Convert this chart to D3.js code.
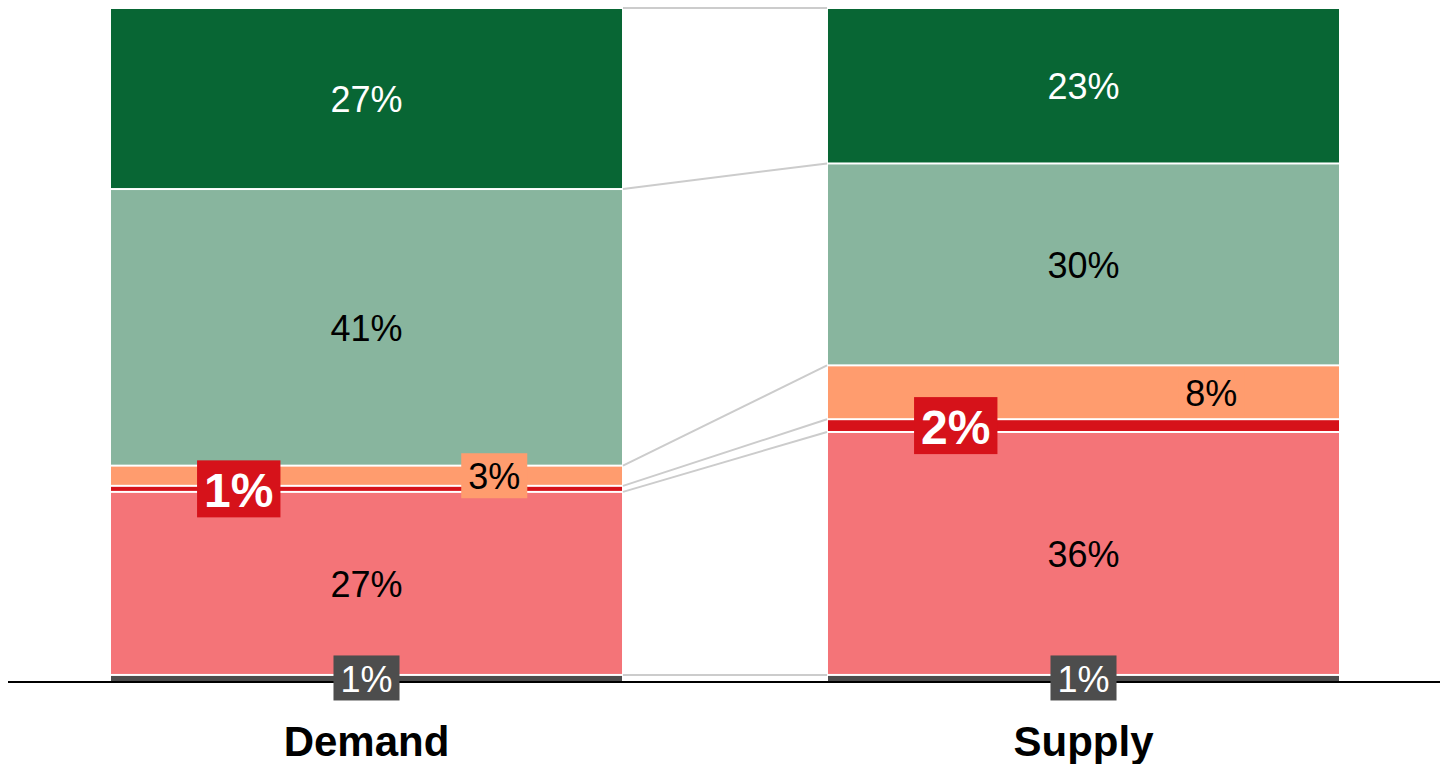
<!DOCTYPE html>
<html>
<head>
<meta charset="utf-8">
<script src="https://cdn.jsdelivr.net/npm/d3@7"></script>
<style>
  body { margin: 0; background: #fff; }
  text { font-family: "Liberation Sans", Arial, sans-serif; }
</style>
</head>
<body>
<svg width="1444" height="764"></svg>
<script>
// data, bottom to top
var categories = ["Demand", "Supply"];
var segments = ["other", "pink", "red", "orange", "lightgreen", "darkgreen"];
var demandValues = [0.9, 27.2, 0.9, 3.0, 41.1, 26.9];
var supplyValues = [0.9, 36.1, 1.9, 8.0, 30.0, 23.1];

var colors = ["#4d4d4d", "#f47478", "#d6121a", "#ff9c6e", "#88b59e", "#086634"];
var textColors = ["#fff", "#000", "#fff", "#000", "#000", "#fff"];
var labelPos = [0.5, 0.5, 0.25, 0.75, 0.5, 0.5]; // where across the bar the label sits
var boxed = [true, false, true, true, false, false];

var svg = d3.select("svg");

var rows = categories.map(function(c, i) {
    var o = { cat: c };
    var vals = i == 0 ? demandValues : supplyValues;
    segments.forEach(function(s, j) { o[s] = vals[j]; });
    return o;
});

var stack = d3.stack().keys(segments);
var layers = stack(rows);

var x = d3.scaleBand()
    .domain(categories)
    .range([111, 1339])
    .paddingInner(0.2873)
    .paddingOuter(0);

var y = d3.scaleLinear()
    .domain([0, 100])
    .range([681, 8]);

// connectors between the bars
var conn = svg.append("g");
layers.forEach(function(l) {
    conn.append("line")
        .attr("x1", x("Demand") + x.bandwidth() + 1)
        .attr("x2", x("Supply") - 1)
        .attr("y1", y(l[0][1]))
        .attr("y2", y(l[1][1]))
        .attr("stroke", "#cccccc")
        .attr("stroke-width", 2);
});

// bars
var g = svg.selectAll("g.layer")
    .data(layers)
    .enter().append("g")
    .attr("class", "layer")
    .attr("fill", function(d, i) { return colors[i]; });

g.selectAll("rect")
    .data(function(d) { return d; })
    .enter().append("rect")
    .attr("x", function(d) { return x(d.data.cat); })
    .attr("width", x.bandwidth())
    .attr("y", function(d) { return y(d[1]) + 1; })
    .attr("height", function(d) {
        var bottomGap = d[0] == 0 ? 0 : 1;
        return Math.max(0, y(d[0]) - y(d[1]) - 1 - bottomGap);
    });

// baseline
svg.append("line")
    .attr("x1", 8).attr("x2", 1440)
    .attr("y1", 682).attr("y2", 682)
    .attr("stroke", "#000").attr("stroke-width", 2);

// labels
layers.forEach(function(l, i) {
    l.forEach(function(d) {
        var cx = x(d.data.cat) + x.bandwidth() * labelPos[i];
        var cy = y((d[0] + d[1]) / 2);
        var lg = svg.append("g");
        var t = lg.append("text")
            .attr("x", cx)
            .attr("y", cy)
            .attr("dy", "0.38em")
            .attr("text-anchor", "middle")
            .attr("fill", textColors[i])
            .style("font-size", i == 2 ? "48px" : "36px")
            .style("font-weight", i == 2 ? "bold" : "normal")
            .text(Math.round(d[1] - d[0]) + "%");
        if (boxed[i]) {
            var bb = t.node().getBBox();
            lg.insert("rect", "text")
                .attr("x", bb.x - 7)
                .attr("y", cy - bb.height / 2 - 2)
                .attr("width", bb.width + 14)
                .attr("height", bb.height + 4)
                .attr("fill", colors[i]);
        }
    });
});

// category axis
var axis = svg.append("g")
    .attr("transform", "translate(0,726)")
    .call(d3.axisBottom(x).tickSize(0).tickPadding(0));
axis.select(".domain").remove();
axis.selectAll("text")
    .attr("fill", "#000")
    .style("font-family", "Liberation Sans, Arial, sans-serif")
    .style("font-size", "42px")
    .style("font-weight", "bold");
</script>
</body>
</html>
